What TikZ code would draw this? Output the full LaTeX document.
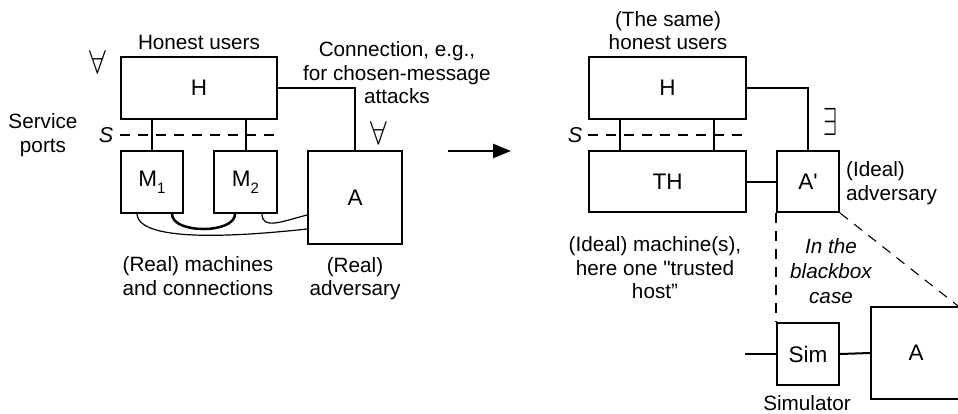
\documentclass[tikz,border=0pt]{standalone}
\usepackage{fontspec}
\setmainfont{Liberation Sans}[Ligatures=TeXOff]
\usetikzlibrary{arrows.meta}
\tikzset{
  box/.style={draw, line width=2pt, inner sep=0pt, font=\fontsize{22.5}{26}\selectfont},
  wire/.style={line width=2pt},
  sline/.style={line width=1.1pt, dash pattern=on 10pt off 8pt},
  lbl/.style={align=center, inner sep=0pt, font=\fontsize{20.7}{23.5}\selectfont},
  quant/.style={inner sep=0pt, font=\normalsize},
}
\begin{document}
\begin{tikzpicture}[x=1pt,y=-1pt]
\useasboundingbox (0,0) rectangle (958,413);
% ---- left: real system
\node[box, minimum width=156pt, minimum height=62pt] (H) at (199,88) {H};
\node[box, minimum width=62pt, minimum height=62pt] (M1) at (152,182) {M\raisebox{-0.3em}{\fontsize{15}{15}\selectfont 1}};
\node[box, minimum width=63pt, minimum height=62pt] (M2) at (245.5,182) {M\raisebox{-0.3em}{\fontsize{15}{15}\selectfont 2}};
\node[box, minimum width=94pt, minimum height=93pt] (A) at (355,197.5) {A};
\node[lbl] (hu) at (199,42) {Honest users};
\node[lbl] (conn) at (397,73) {Connection, e.g.,\\for chosen-message\\attacks};
\node[quant] (fa1) at (98,62) {\scalebox{3}[3.3]{$\forall$}};
\node[quant] (fa2) at (379,133) {\scalebox{3}[3.3]{$\forall$}};
\node[lbl] (sp) at (43,135) {Service\\ports};
\node[lbl, font=\fontsize{21.5}{24}\selectfont\itshape] (S1) at (106,135) {S};
\node[lbl] (rm) at (198,276) {(Real) machines\\and connections};
\node[lbl] (ra) at (355,278.5) {(Real)\\adversary};
\draw[wire] (H.east) -| (A.north);
\draw[wire] (M1.north) -- (M1.north |- H.south);
\draw[wire] (M2.north) -- (M2.north |- H.south);
\draw[sline] (H.west |- S1) -- (H.east |- S1);
\draw[line width=2.5pt] ([xshift=20pt]M1.south) .. controls ([xshift=20pt,yshift=-20pt]M1.south) and ([xshift=-10.5pt,yshift=-20pt]M2.south) .. ([xshift=-10.5pt]M2.south);
\draw[line width=1.2pt] ([xshift=-15pt]M1.south) .. controls ([xshift=-13pt,yshift=-30pt]M1.south) and ([xshift=-60pt,yshift=-38pt]A.west) .. ([yshift=-31.5pt]A.west);
\draw[line width=1.2pt] ([xshift=16.5pt]M2.south) .. controls ([xshift=16.5pt,yshift=-16pt]M2.south) and ([xshift=-25pt,yshift=-24pt]A.west) .. ([yshift=-17.5pt]A.west);
% ---- arrow
\coordinate (arA) at (448,151);
\coordinate (arB) at (511,151);
\draw[line width=2.5pt, -{Triangle[length=18pt,width=14pt]}] (arA) -- (arB);
% ---- right: ideal system
\node[box, minimum width=157pt, minimum height=62pt] (H2) at (667.5,88) {H};
\node[box, minimum width=157pt, minimum height=61pt] (TH) at (667.5,181.5) {TH};
\node[box, minimum width=62pt, minimum height=61pt] (Ap) at (808,181.5) {A'};
\node[box, minimum width=62pt, minimum height=62pt] (Sim) at (808,354) {Sim};
\node[box, minimum width=90pt, minimum height=92pt] (Ab) at (916,353) {A};
\node[lbl] (same) at (668,30.5) {(The same)\\honest users};
\node[lbl, font=\fontsize{21.5}{24}\selectfont\itshape] (S2) at (575,135) {S};
\node[quant] (ex) at (830,121.5) {\scalebox{2.5}[3.9]{$\exists$}};
\node[lbl, align=left, anchor=west] (ia) at (846,183) {(Ideal)\\adversary};
\node[lbl] (im) at (655,268) {(Ideal) machine(s),\\here one "trusted\\host”};
\node[lbl, font=\fontsize{20.7}{25}\selectfont\itshape] (bb) at (831,271.5) {In the\\blackbox\\case};
\node[lbl] (simu) at (807,403) {Simulator};
\draw[wire] (H2.east) -| (Ap.north);
\draw[wire] ([xshift=-47.5pt]TH.north) -- ([xshift=-47.5pt]H2.south);
\draw[wire] ([xshift=46.5pt]TH.north) -- ([xshift=46.5pt]H2.south);
\draw[sline] (H2.west |- S2) -- (H2.east |- S2);
\draw[wire] (TH.east) -- (Ap.west);
\draw[sline] (Ap.south west) -- (Sim.north west);
\draw[sline] (Ap.south east) -- (Ab.north -| 958,0);
\coordinate (simin) at (745,354);
\draw[wire] (simin) -- (Sim.west);
\draw[wire] (Sim.east) -- (Ab.west);
\end{tikzpicture}
\end{document}
